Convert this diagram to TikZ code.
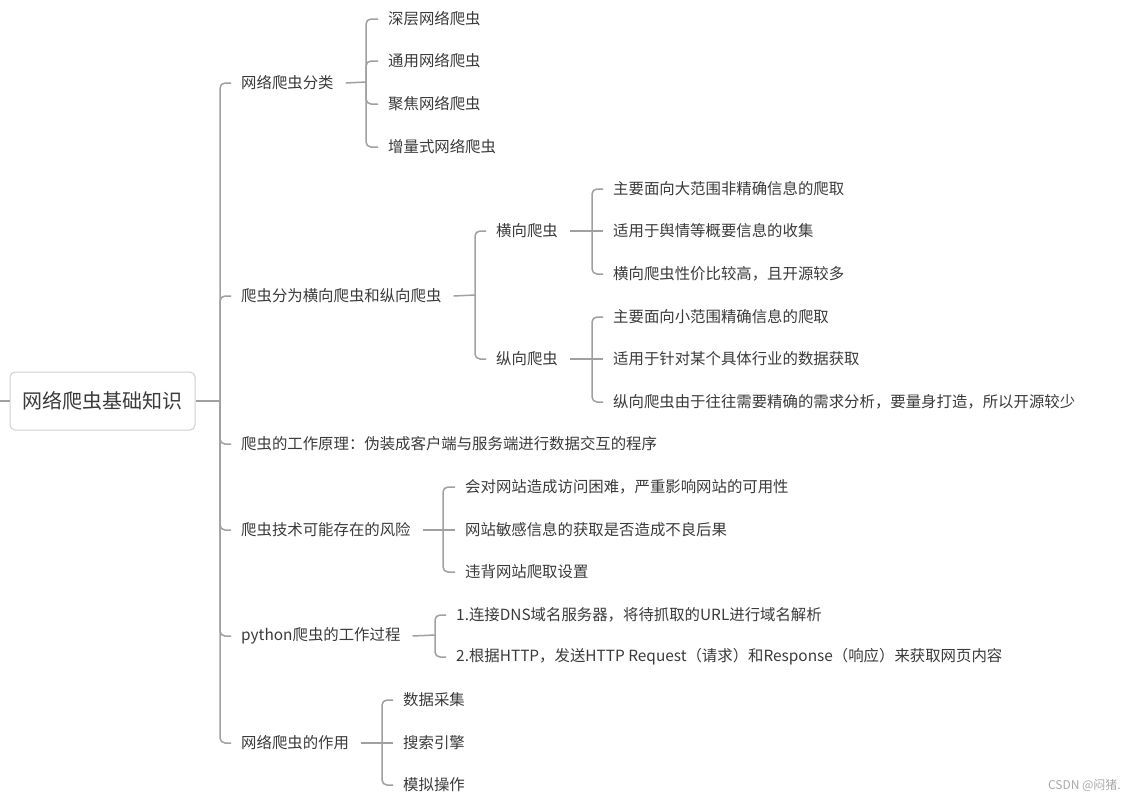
\documentclass[tikz,border=0pt]{standalone}
\usepackage{fontspec}
\setmainfont{Noto Sans CJK SC}
\usepackage{tikz}
\usepackage{xcolor}
\usetikzlibrary{positioning, calc}

\definecolor{textgray}{HTML}{3A3A3A}
\definecolor{linegray}{HTML}{A0A0A0}
\definecolor{boxgray}{HTML}{CFCFCF}
\definecolor{markgray}{HTML}{A8A8A8}

\tikzset{
  topic/.style={anchor=west, inner sep=0pt, yshift=-1pt, font=\fontsize{15.4}{18}\selectfont, text=textgray},
  rootbox/.style={draw=boxgray, line width=1pt, rounded corners=5pt, minimum width=185pt,
    minimum height=58pt, inner sep=0pt, font=\fontsize{20}{24}\selectfont, text=textgray},
  link/.style={draw=linegray, line width=1.5pt, rounded corners=5pt},
  watermark/.style={anchor=east, inner sep=0pt, font=\fontsize{12}{14}\selectfont, text=markgray}
}

\begin{document}
\begin{tikzpicture}[x=1pt, y=-1pt]
    \useasboundingbox (0,0) rectangle (1135,801);

    % --- Root ---
    \node[rootbox] (root) at (102.5,401) {网络爬虫基础知识};
    \coordinate (edge) at (0,401);
    \coordinate (trunk) at (220,401);
    \draw[link] (edge) -- (root.west);
    \draw[link] (root.east) -- (trunk);

    % --- First level ---
    \node[topic] (cls)       at (241,82)  {网络爬虫分类};
    \node[topic] (kind)      at (241,295) {爬虫分为横向爬虫和纵向爬虫};
    \node[topic] (principle) at (241,443) {爬虫的工作原理：伪装成客户端与服务端进行数据交互的程序};
    \node[topic] (risk)      at (241,529) {爬虫技术可能存在的风险};
    \node[topic] (proc)      at (241,635) {python爬虫的工作过程};
    \node[topic] (use)       at (241,742) {网络爬虫的作用};

    \foreach \t in {cls, kind, principle, risk, proc, use} {
        \draw[link] (trunk) |- ([xshift=-10pt]\t.west);
    }

    % --- Crawler types ---
    \node[topic] (cls-deep)    at (388,18)  {深层网络爬虫};
    \node[topic] (cls-general) at (388,60)  {通用网络爬虫};
    \node[topic] (cls-focus)   at (388,103) {聚焦网络爬虫};
    \node[topic] (cls-incr)    at (388,146) {增量式网络爬虫};
    \coordinate (cls-bar) at (366,82);
    \draw[link] ([xshift=12pt]cls.east) -- (cls-bar);
    \foreach \c in {cls-deep, cls-general, cls-focus, cls-incr} {
        \draw[link] (cls-bar) |- ([xshift=-10pt]\c.west);
    }

    % --- Horizontal / vertical crawlers ---
    \node[topic] (kind-h) at (496,230) {横向爬虫};
    \node[topic] (kind-v) at (496,358) {纵向爬虫};
    \coordinate (kind-bar) at (475,295);
    \draw[link] ([xshift=12pt]kind.east) -- (kind-bar);
    \foreach \c in {kind-h, kind-v} {
        \draw[link] (kind-bar) |- ([xshift=-10pt]\c.west);
    }

    \node[topic] (h1) at (613,188) {主要面向大范围非精确信息的爬取};
    \node[topic] (h2) at (613,230) {适用于舆情等概要信息的收集};
    \node[topic] (h3) at (613,273) {横向爬虫性价比较高，且开源较多};
    \coordinate (h-bar) at (592,230);
    \draw[link] ([xshift=12pt]kind-h.east) -- ([xshift=-10pt]h2.west);
    \foreach \c in {h1, h3} {
        \draw[link] (h-bar) |- ([xshift=-10pt]\c.west);
    }

    \node[topic] (v1) at (613,316) {主要面向小范围精确信息的爬取};
    \node[topic] (v2) at (613,358) {适用于针对某个具体行业的数据获取};
    \node[topic] (v3) at (613,401) {纵向爬虫由于往往需要精确的需求分析，要量身打造，所以开源较少};
    \coordinate (v-bar) at (592,358);
    \draw[link] ([xshift=12pt]kind-v.east) -- ([xshift=-10pt]v2.west);
    \foreach \c in {v1, v3} {
        \draw[link] (v-bar) |- ([xshift=-10pt]\c.west);
    }

    % --- Risks ---
    \node[topic] (risk1) at (465,486) {会对网站造成访问困难，严重影响网站的可用性};
    \node[topic] (risk2) at (465,529) {网站敏感信息的获取是否造成不良后果};
    \node[topic] (risk3) at (465,571) {违背网站爬取设置};
    \coordinate (risk-bar) at (443,529);
    \draw[link] ([xshift=12pt]risk.east) -- ([xshift=-10pt]risk2.west);
    \foreach \c in {risk1, risk3} {
        \draw[link] (risk-bar) |- ([xshift=-10pt]\c.west);
    }

    % --- Working process ---
    \node[topic] (proc1) at (456,614) {1.连接DNS域名服务器，将待抓取的URL进行域名解析};
    \node[topic] (proc2) at (456,656) {2.根据HTTP，发送HTTP Request（请求）和Response（响应）来获取网页内容};
    \coordinate (proc-bar) at (435,635);
    \draw[link] ([xshift=12pt]proc.east) -- (proc-bar);
    \foreach \c in {proc1, proc2} {
        \draw[link] (proc-bar) |- ([xshift=-10pt]\c.west);
    }

    % --- Uses ---
    \node[topic] (use1) at (403,699) {数据采集};
    \node[topic] (use2) at (403,742) {搜索引擎};
    \node[topic] (use3) at (403,784) {模拟操作};
    \coordinate (use-bar) at (382,742);
    \draw[link] ([xshift=12pt]use.east) -- ([xshift=-10pt]use2.west);
    \foreach \c in {use1, use3} {
        \draw[link] (use-bar) |- ([xshift=-10pt]\c.west);
    }

    % --- Watermark ---
    \node[watermark] (credit) at (1121,785) {CSDN @闷猪.};

\end{tikzpicture}
\end{document}
